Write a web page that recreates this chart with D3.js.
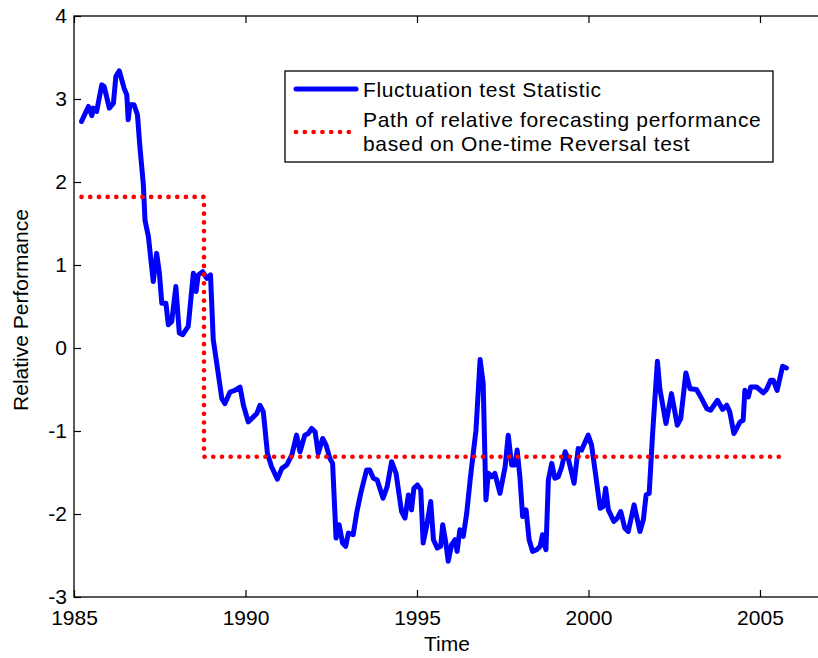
<!DOCTYPE html>
<html>
<head>
<meta charset="utf-8">
<script src="https://cdn.jsdelivr.net/npm/d3@7"></script>
<style>
  html, body { margin: 0; padding: 0; background: #fff; }
  svg { display: block; }
  text { font-family: "Liberation Sans", Arial, sans-serif; fill: #000; }
</style>
</head>
<body>
<svg id="chart" width="818" height="658"></svg>
<script>
// ---- data ----
const years = [1985.22,1985.42,1985.52,1985.56,1985.66,1985.81,1985.88,1986.03,1986.15,1986.22,1986.32,1986.46,1986.54,1986.58,1986.63,1986.75,1986.85,1986.92,1987.02,1987.07,1987.17,1987.31,1987.41,1987.49,1987.56,1987.68,1987.75,1987.85,1987.97,1988.07,1988.17,1988.33,1988.48,1988.56,1988.62,1988.75,1988.87,1988.98,1989.06,1989.16,1989.31,1989.40,1989.55,1989.69,1989.84,1989.94,1990.08,1990.23,1990.33,1990.42,1990.52,1990.64,1990.76,1990.93,1991.06,1991.20,1991.35,1991.49,1991.59,1991.73,1991.83,1991.93,1992.03,1992.12,1992.25,1992.35,1992.46,1992.54,1992.64,1992.73,1992.83,1992.92,1993.00,1993.14,1993.24,1993.36,1993.53,1993.62,1993.73,1993.84,1994.01,1994.13,1994.26,1994.39,1994.55,1994.65,1994.75,1994.84,1994.91,1995.01,1995.11,1995.18,1995.28,1995.40,1995.48,1995.59,1995.69,1995.75,1995.85,1995.91,1996.01,1996.11,1996.17,1996.25,1996.35,1996.45,1996.55,1996.64,1996.72,1996.84,1996.93,1997.01,1997.08,1997.18,1997.27,1997.42,1997.57,1997.66,1997.76,1997.86,1997.92,1998.00,1998.08,1998.18,1998.27,1998.37,1998.49,1998.59,1998.66,1998.76,1998.83,1998.93,1999.02,1999.12,1999.22,1999.32,1999.42,1999.58,1999.70,1999.80,1999.99,2000.09,2000.19,2000.34,2000.43,2000.50,2000.58,2000.74,2000.84,2000.94,2001.06,2001.16,2001.33,2001.50,2001.60,2001.68,2001.77,2001.87,2002.01,2002.08,2002.26,2002.42,2002.59,2002.69,2002.84,2002.96,2003.15,2003.30,2003.45,2003.56,2003.76,2003.91,2004.03,2004.12,2004.24,2004.42,2004.51,2004.56,2004.66,2004.73,2004.90,2005.10,2005.19,2005.31,2005.39,2005.50,2005.66,2005.77];
const fluctuation = [2.73,2.91,2.80,2.89,2.85,3.17,3.15,2.89,2.95,3.27,3.34,3.13,3.05,2.75,2.93,2.93,2.81,2.43,1.98,1.54,1.34,0.80,1.14,0.90,0.54,0.54,0.28,0.32,0.74,0.18,0.16,0.26,0.90,0.68,0.88,0.92,0.84,0.88,0.10,-0.18,-0.61,-0.67,-0.53,-0.51,-0.47,-0.69,-0.89,-0.83,-0.79,-0.69,-0.77,-1.27,-1.43,-1.58,-1.45,-1.41,-1.29,-1.05,-1.25,-1.05,-1.03,-0.97,-1.01,-1.27,-1.09,-1.17,-1.33,-1.39,-2.29,-2.13,-2.35,-2.39,-2.23,-2.25,-1.99,-1.75,-1.47,-1.47,-1.57,-1.59,-1.81,-1.67,-1.37,-1.51,-1.97,-2.05,-1.77,-1.95,-1.69,-1.65,-1.71,-2.35,-2.15,-1.85,-2.31,-2.41,-2.39,-2.13,-2.37,-2.57,-2.37,-2.31,-2.45,-2.19,-2.27,-1.99,-1.59,-1.27,-0.99,-0.14,-0.43,-1.83,-1.51,-1.55,-1.51,-1.75,-1.43,-1.05,-1.41,-1.41,-1.23,-1.55,-2.03,-1.95,-2.31,-2.45,-2.43,-2.39,-2.25,-2.43,-1.59,-1.39,-1.57,-1.55,-1.43,-1.25,-1.35,-1.63,-1.21,-1.23,-1.05,-1.17,-1.47,-1.93,-1.91,-1.69,-1.95,-2.09,-2.05,-1.97,-2.17,-2.21,-1.89,-2.21,-2.07,-1.77,-1.75,-1.03,-0.16,-0.49,-0.91,-0.55,-0.93,-0.85,-0.30,-0.49,-0.50,-0.61,-0.73,-0.75,-0.63,-0.74,-0.69,-0.77,-1.03,-0.89,-0.87,-0.51,-0.59,-0.47,-0.47,-0.54,-0.50,-0.39,-0.39,-0.51,-0.22,-0.24];
const pathYears = [1985.22, 1988.79, 2005.76];
const pathValues = [1.82, -1.31, -1.31];
const xTicks = [1985, 1990, 1995, 2000, 2005];
const yTicks = [-3, -2, -1, 0, 1, 2, 3, 4];
const legendLabels = ["Fluctuation test Statistic", "Path of relative forecasting performance", "based on One-time Reversal test"];

// ---- layout ----
const L = 74, R = 826, T = 16, B = 597;
const svg = d3.select("#chart");
const x = d3.scaleLinear().domain([1985, 2006.925]).range([L, R]);
const y = d3.scaleLinear().domain([-3, 4]).range([B, T]);
const FS = 21;

// axes
const gx = svg.append("g").attr("transform", `translate(0,${B})`)
  .call(d3.axisBottom(x).tickValues(xTicks).tickFormat(d => String(d)).tickSizeInner(-7).tickSizeOuter(0).tickPadding(13));
const gxt = svg.append("g").attr("transform", `translate(0,${T})`)
  .call(d3.axisTop(x).tickValues(xTicks).tickFormat("").tickSizeInner(-7).tickSizeOuter(0));
const gy = svg.append("g").attr("transform", `translate(${L},0)`)
  .call(d3.axisLeft(y).tickValues(yTicks).tickFormat(d => String(d)).tickSizeInner(-7).tickSizeOuter(0).tickPadding(7));
[gx, gxt, gy].forEach(g => {
  g.select(".domain").remove();
  g.selectAll(".tick line").attr("stroke", "#000").attr("stroke-width", 1.2);
  g.selectAll(".tick text").style("font-size", FS + "px").style("font-family", '"Liberation Sans", Arial, sans-serif').attr("fill", "#000");
});

// box
svg.append("rect").attr("x", L).attr("y", T).attr("width", R - L).attr("height", B - T)
  .attr("fill", "none").attr("stroke", "#000").attr("stroke-width", 1.3);

// series
const pts = years.map((yr, i) => [yr, fluctuation[i]]);
svg.append("path").datum(pts)
  .attr("d", d3.line().x(d => x(d[0])).y(d => y(d[1])))
  .attr("fill", "none").attr("stroke", "#0000ff").attr("stroke-width", 5)
  .attr("stroke-linejoin", "round").attr("stroke-linecap", "round");

const pathPts = pathYears.map((yr, i) => [yr, pathValues[i]]);
svg.append("path").datum(pathPts)
  .attr("d", d3.line().curve(d3.curveStepAfter).x(d => x(d[0])).y(d => y(d[1])))
  .attr("fill", "none").attr("stroke", "#ff0000").attr("stroke-width", 4.7)
  .attr("stroke-dasharray", "0 8.7").attr("stroke-linecap", "round");

// axis labels
svg.append("text").attr("x", 447).attr("y", 651).attr("text-anchor", "middle")
  .style("font-size", FS + "px").text("Time");
svg.append("text").attr("transform", `translate(28,310) rotate(-90)`).attr("text-anchor", "middle")
  .style("font-size", FS + "px").text("Relative Performance");

// legend
const lg = svg.append("g");
lg.append("rect").attr("x", 285).attr("y", 71).attr("width", 488).attr("height", 91)
  .attr("fill", "#fff").attr("stroke", "#000").attr("stroke-width", 1.3);
lg.append("line").attr("x1", 296).attr("x2", 356).attr("y1", 89).attr("y2", 89)
  .attr("stroke", "#0000ff").attr("stroke-width", 5).attr("stroke-linecap", "round");
lg.append("line").attr("x1", 296).attr("x2", 349).attr("y1", 132).attr("y2", 132)
  .attr("stroke", "#ff0000").attr("stroke-width", 4.7).attr("stroke-dasharray", "0 8.8").attr("stroke-linecap", "round");
const ly = [97, 127, 151];
legendLabels.forEach((t, i) => {
  lg.append("text").attr("x", 363).attr("y", ly[i]).style("font-size", FS + "px")
    .style("letter-spacing", "0.65px").text(t);
});
</script>
</body>
</html>
